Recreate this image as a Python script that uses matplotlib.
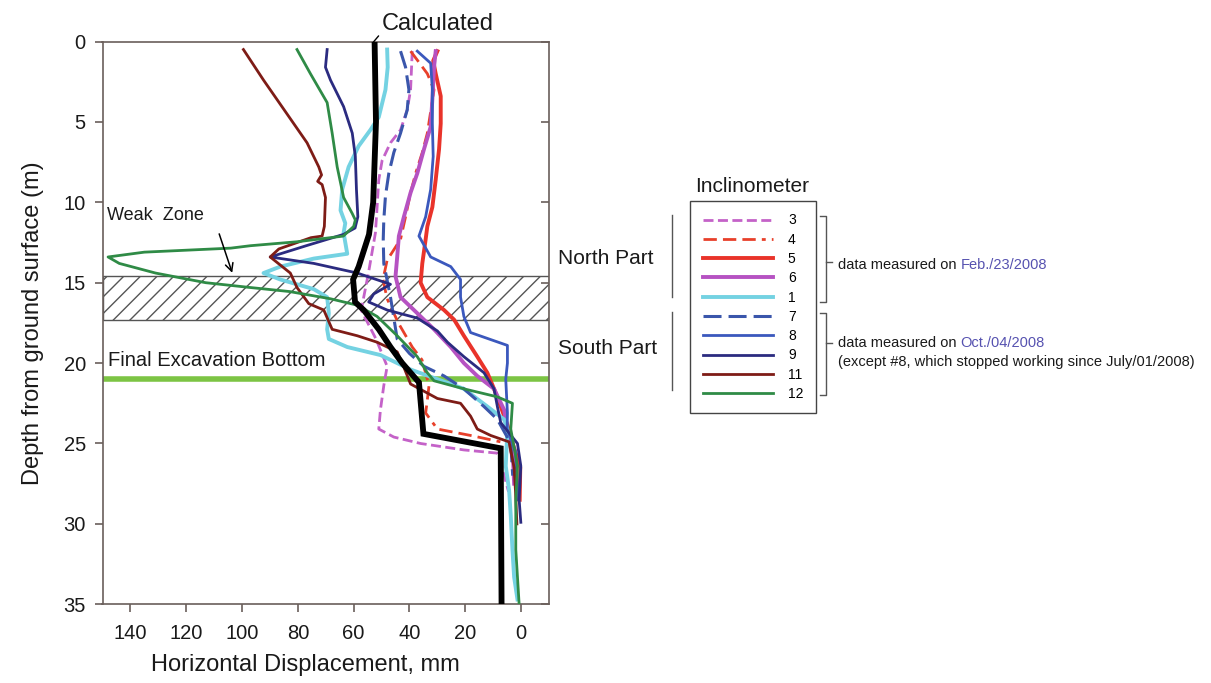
import numpy as np
import matplotlib
matplotlib.use("Agg")
import matplotlib.pyplot as plt

plt.rcParams['font.family'] = ['Liberation Sans', 'DejaVu Sans']
plt.rcParams['hatch.linewidth'] = 1.0

# ---- inclinometer readings (depth in m, displacement in mm) ----
calc_depth = [0, 5, 10, 12, 14.0, 14.8, 16.2, 16.7, 17.9, 19.0, 20.0, 20.6, 21.2, 24.4, 25.3, 35]
calc_disp = [52.5, 52.0, 53.0, 54.5, 58.2, 60.2, 59.5, 56.4, 51.0, 46.8, 42.6, 39.6, 36.6, 35.0, 7.3, 7.0]

d3 = [0.6, 3.0, 4.25, 5.5, 6.3, 7.4, 8.6, 10.3, 11.9, 14.4, 16.7, 18.5, 20.2, 21.4, 22.9, 24.1, 24.6, 25.0, 25.4, 25.6, 26.2, 28.0]
x3 = [39.0, 39.6, 40.8, 43.2, 46.8, 49.8, 51.0, 51.6, 52.2, 54.7, 57.3, 52.0, 48.0, 49.2, 50.4, 51.0, 45.6, 36.0, 20.5, 8.5, 7.3, 4.5]

d4 = [0.6, 1.2, 2.0, 3.0, 5.7, 6.9, 8.2, 9.4, 10.9, 12.3, 13.6, 14.8, 16.0, 17.5, 19.0, 19.8, 21.4, 22.3, 23.1, 24.1, 24.5, 24.9, 25.0, 27.4, 28.5]
x4 = [39.6, 37.0, 33.6, 31.2, 33.6, 35.4, 37.8, 39.6, 41.4, 43.2, 48.0, 49.5, 48.0, 44.0, 39.0, 35.5, 33.0, 33.6, 34.2, 30.0, 18.1, 7.3, 4.3, 1.3, 1.5]

d5 = [0.6, 1.2, 2.0, 3.4, 5.1, 6.7, 8.6, 10.3, 11.5, 12.3, 13.8, 15.0, 15.9, 16.7, 17.3, 18.3, 19.6, 20.6, 21.6, 22.7, 23.8, 25.0, 26.5, 28.5]
x5 = [30.0, 31.5, 30.6, 28.8, 28.8, 29.4, 30.6, 31.8, 33.6, 34.2, 35.4, 36.0, 33.6, 27.6, 24.0, 20.5, 15.7, 12.1, 9.7, 7.3, 5.0, 3.0, 0.3, 0.5]

d6 = [0.6, 1.6, 3.6, 5.3, 6.7, 8.2, 9.4, 10.9, 12.1, 13.4, 14.6, 15.9, 16.9, 17.9, 19.0, 20.0, 20.8, 21.6, 22.9, 24.1, 25.5, 27.5]
x6 = [30.6, 31.2, 31.8, 32.4, 34.8, 37.2, 39.6, 42.0, 43.8, 44.4, 45.0, 43.2, 37.2, 31.2, 25.2, 20.5, 15.7, 9.7, 6.1, 4.9, 3.0, 2.5]

d1 = [0.5, 1.6, 3.0, 4.7, 5.5, 6.5, 7.8, 9.2, 10.5, 11.3, 11.9, 13.2, 13.5, 14.0, 14.4, 14.8, 15.4, 15.9, 16.9, 17.9, 18.5, 19.0, 19.5, 20.0, 20.4, 21.0, 21.6, 22.7, 23.5, 24.1, 26.4, 27.9, 29.5, 31.6, 33.3, 34.7]
x1 = [48.0, 47.8, 48.6, 51.0, 54.0, 58.2, 61.8, 64.1, 64.7, 63.0, 63.6, 62.3, 74.3, 86.3, 92.3, 86.3, 74.3, 69.5, 68.9, 69.5, 68.9, 62.3, 50.4, 44.4, 39.6, 30.0, 20.5, 12.1, 6.1, 4.9, 5.5, 4.3, 3.7, 3.1, 2.5, 1.3]

d7 = [0.6, 1.6, 3.0, 4.25, 5.7, 6.9, 8.2, 9.6, 11.1, 12.3, 13.8, 15.9, 18.5, 19.4, 20.2, 20.8, 21.6, 22.7, 23.5, 25.0, 27.0]
x7 = [43.2, 41.4, 40.2, 40.8, 43.2, 45.6, 47.4, 48.6, 49.2, 49.4, 49.2, 46.8, 44.4, 40.0, 34.8, 27.6, 20.5, 13.3, 8.5, 3.7, 3.0]

d8 = [0.6, 1.35, 3.0, 5.1, 7.15, 9.2, 10.9, 12.1, 13.4, 14.0, 14.8, 15.9, 17.1, 18.1, 18.9, 20.0, 21.0, 23.1, 24.1, 25.5, 27.0, 28.5]
x8 = [37.2, 32.4, 31.8, 31.8, 31.5, 32.4, 34.2, 36.6, 32.4, 25.2, 21.7, 21.7, 20.5, 18.1, 4.9, 4.9, 5.5, 4.9, 5.0, 2.0, 1.5, 1.0]

d9 = [0.5, 1.6, 2.4, 4.05, 5.7, 7.15, 9.2, 10.9, 11.6, 12.0, 12.7, 13.4, 13.8, 14.4, 15.1, 15.7, 16.2, 16.7, 17.2, 18.0, 18.7, 19.6, 20.6, 21.6, 22.7, 23.7, 25.0, 26.4, 28.5, 29.9]
x9 = [69.5, 70.1, 68.3, 63.6, 60.5, 59.4, 59.0, 58.5, 59.5, 63.7, 77.0, 89.9, 74.3, 58.7, 46.8, 52.8, 54.6, 48.0, 37.2, 30.0, 26.4, 20.5, 13.3, 9.7, 8.5, 7.3, 1.3, 0.1, 0.7, 0.1]

d11 = [0.5, 2.4, 4.5, 6.3, 7.8, 8.3, 8.7, 8.9, 9.7, 11.5, 12.1, 12.2, 12.9, 13.4, 14.4, 15.3, 16.3, 16.7, 17.9, 18.3, 18.7, 19.3, 20.0, 21.3, 22.2, 22.5, 23.3, 24.1, 24.5, 24.9, 26.5, 28.0, 30.0]
x11 = [99.5, 92.3, 83.9, 76.7, 72.5, 71.5, 72.9, 71.3, 70.1, 70.5, 71.3, 75.3, 86.8, 89.9, 82.7, 80.3, 76.1, 70.7, 67.7, 58.7, 51.6, 44.4, 42.6, 39.6, 30.0, 21.7, 18.1, 15.7, 10.9, 4.3, 2.5, 2.0, 1.5]

d12 = [0.5, 2.0, 3.8, 5.7, 7.8, 9.7, 10.7, 11.1, 11.5, 12.1, 12.45, 12.7, 12.85, 13.1, 13.4, 13.8, 14.4, 15.0, 15.3, 15.55, 16.0, 16.4, 17.1, 18.3, 19.6, 20.6, 21.1, 21.6, 22.1, 22.5, 24.1, 26.4, 28.5, 31.6, 35.0]
x12 = [80.3, 75.5, 69.5, 67.7, 65.9, 63.6, 60.5, 59.4, 60.0, 63.7, 80.0, 97.0, 104.0, 135.0, 148.0, 144.0, 131.0, 113.0, 97.0, 83.0, 68.3, 58.7, 51.6, 44.4, 37.2, 33.6, 31.2, 20.5, 8.5, 3.1, 3.7, 1.3, 1.9, 1.9, 0.7]

weak_zone = (14.6, 17.3)
excavation_bottom = 21.0

# label, depth, disp, colour, width, dash pattern
series = [
    ('3', d3, x3, '#c462c8', 2.0, (3.6, 1.6)),
    ('4', d4, x4, '#e8402a', 2.0, (4.8, 2.2, 4.8, 2.2, 4.8, 2.2, 1.4, 2.2)),
    ('5', d5, x5, '#e9332a', 2.8, None),
    ('6', d6, x6, '#b652c2', 2.8, None),
    ('1', d1, x1, '#74d2e2', 2.8, None),
    ('7', d7, x7, '#3a56ab', 2.2, (5.9, 2.3)),
    ('8', d8, x8, '#3b58bd', 2.0, None),
    ('9', d9, x9, '#2b2b80', 2.0, None),
    ('11', d11, x11, '#7e1c16', 2.0, None),
    ('12', d12, x12, '#2f8b46', 2.0, None),
]

W, H = 1211, 683
fig = plt.figure(figsize=(W / 100, H / 100), dpi=100)
ax = fig.add_axes([102.5 / W, 1 - 604.3 / H, (549 - 102.5) / W, (604.3 - 41.5) / H])

spine_col = '#6a5f5b'
for s in ax.spines.values():
    s.set_color(spine_col)
    s.set_linewidth(1.2)

# weak zone band and excavation level
ax.axhspan(*weak_zone, facecolor='none', edgecolor='#555555', hatch='//', lw=1.0, zorder=1)
ax.axhline(excavation_bottom, color='#7cc444', lw=4, zorder=1.5)

handles = []
for lab, d, x, col, lw, dash in series:
    ln, = ax.plot(x, d, color=col, lw=lw, label=lab, zorder=3)
    if dash is not None:
        ln.set_dashes(dash)
    handles.append(ln)

ax.plot(calc_disp, calc_depth, color='black', lw=4.2, zorder=4, solid_joinstyle='miter')

ax.set_xlim(150, -10)
ax.set_ylim(35, 0)
ax.set_xticks(np.arange(0, 141, 20))
ax.set_yticks(np.arange(0, 36, 5))
ax.tick_params(axis='both', labelsize=14.5, colors=spine_col, labelcolor='#1a1a1a',
               length=6, width=1.2, direction='out')
ax.tick_params(axis='x', pad=8)
ax.tick_params(axis='y', right=True, pad=6)
for t in ax.yaxis.get_ticklines()[1::2]:
    t.set_marker(0)  # right-side ticks point inward

ax.set_xlabel('Horizontal Displacement, mm', fontsize=17, color='#1a1a1a', labelpad=8, x=0.4535)
ax.set_ylabel('Depth from ground surface (m)', fontsize=17, color='#1a1a1a', labelpad=14)

ax.text(148.3, 10.85, 'Weak  Zone', fontsize=13, va='center', ha='left', color='#1a1a1a')
ax.annotate('', xy=(103.2, 14.55), xytext=(108.5, 11.8),
            arrowprops=dict(arrowstyle='->', color='black', lw=1.1, mutation_scale=14))
ax.text(148.0, 19.85, 'Final Excavation Bottom', fontsize=14.5, va='center', ha='left',
        color='#1a1a1a')

ax.annotate('Calculated', xy=(53.0, 0.05), xytext=(30.0, -1.1), textcoords='data',
            fontsize=17, ha='center', va='center', color='#1a1a1a', annotation_clip=False,
            arrowprops=dict(arrowstyle='-', color='black', lw=1.0, shrinkA=0, shrinkB=0,
                            relpos=(0.0, 0.1)))

# legend
leg = fig.legend(handles=handles, loc='upper left', bbox_to_anchor=(690 / W, 1 - 201 / H),
                 bbox_transform=fig.transFigure, borderaxespad=0, fontsize=10,
                 handlelength=5.1, handletextpad=1.05,
                 labelspacing=0.38, borderpad=0.9,
                 fancybox=False, framealpha=1, edgecolor='#444444')
leg.get_frame().set_linewidth(1.0)

# annotations beside the legend, in pixel coordinates
ov = fig.add_axes([0, 0, 1, 1])
ov.set_xlim(0, W)
ov.set_ylim(H, 0)
ov.set_axis_off()

txt = '#1a1a1a'
ov.text(752, 187, 'Inclinometer', fontsize=15, ha='center', va='center', color=txt)
ov.text(558, 258, 'North Part', fontsize=15, ha='left', va='center', color=txt)
ov.text(558, 349, 'South Part', fontsize=15, ha='left', va='center', color=txt)

bar_col = '#555555'
ov.plot([672, 672], [215, 297], color=bar_col, lw=1.0)
ov.plot([672, 672], [312, 390], color=bar_col, lw=1.0)

for top, bot, mid in [(216, 302, 262), (313, 395, 343)]:
    ov.plot([820, 826, 826, 820], [top, top, bot, bot], color=bar_col, lw=1.0)
    ov.plot([826, 832], [mid, mid], color=bar_col, lw=1.0)

date_col = '#5652b0'
t1 = ov.text(838, 265, 'data measured on ', fontsize=10.5, ha='left', va='center', color=txt)
ov.annotate('Feb./23/2008', xy=(1, 0), xycoords=t1, va='bottom', ha='left',
            fontsize=10.5, color=date_col)
t2 = ov.text(838, 343, 'data measured on ', fontsize=10.5, ha='left', va='center', color=txt)
ov.annotate('Oct./04/2008', xy=(1, 0), xycoords=t2, va='bottom', ha='left',
            fontsize=10.5, color=date_col)
ov.text(838, 362, '(except #8, which stopped working since July/01/2008)', fontsize=10.5,
        ha='left', va='center', color=txt)

fig.savefig('out.png', dpi=100)
